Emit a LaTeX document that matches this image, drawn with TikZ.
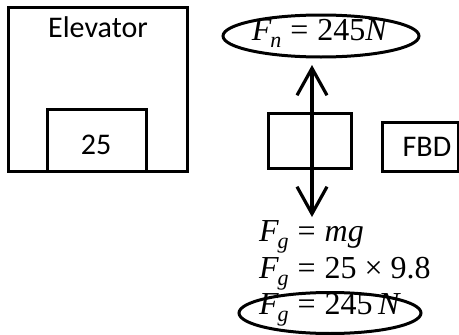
\documentclass[tikz,border=0pt]{standalone}
\usepackage{fontspec}
\setmainfont{Carlito}
\newfontfamily\eqfont{Liberation Serif}
\usetikzlibrary{arrows.meta}
\newcommand\myF[1]{{\itshape F}\kern-1pt\raisebox{-0.22em}{\fontsize{22}{22}\selectfont\itshape #1}}
\newcommand\myeq{\hspace{0.28em}=\hspace{0.28em}}
\begin{document}
\begin{tikzpicture}[x=1pt,y=-1pt,
  boxline/.style={draw=black,line width=3pt},
  lbl/.style={font=\fontsize{30}{36}\selectfont,inner sep=0pt},
  eq/.style={font=\eqfont\fontsize{32}{38}\selectfont,inner sep=0pt,anchor=west},
  force/.style={line width=3.2pt,-{Straight Barb[length=27pt,width=30pt,line width=0pt 1]}}]
\useasboundingbox (0,0) rectangle (459,335);
% elevator
\draw[boxline] (8,7) rectangle (187,171);
\node[lbl] (elev) at (98,27) {Elevator};
\draw[boxline] (47,171) -- (47,109) -- (146,109) -- (146,171);
\node[lbl] (mass) at (96,145) {25};
% FBD box
\draw[boxline] (382,122) rectangle (458.5,171);
\node[lbl] (fbd) at (427,147) {FBD};
% body
\node[boxline,minimum width=83pt,minimum height=55pt,inner sep=0pt] (body) at (309.5,140.5) {};
% normal force
\draw[line width=3pt] (321,36) ellipse [x radius=98pt, y radius=21pt];
\node[eq,anchor=center] (fn) at (320,33) {\myF{n}\myeq 245\textit{N}};
\coordinate (mid) at (312,140.5);
\coordinate (uptip) at (312,65);
\coordinate (downtip) at (312,217);
\draw[force] (mid) -- (uptip);
\draw[force] (mid) -- (downtip);
% gravity
\node[eq] (g1) at (259,237) {\myF{g}\myeq\textit{mg}};
\node[eq] (g2) at (259,274) {\myF{g}\myeq 25 × 9.8};
\node[eq] (g3) at (259,310) {\myF{g}\myeq 245\,\textit{N}};
\draw[line width=3pt] (330,313) ellipse [x radius=91pt, y radius=20.5pt];
\end{tikzpicture}
\end{document}
